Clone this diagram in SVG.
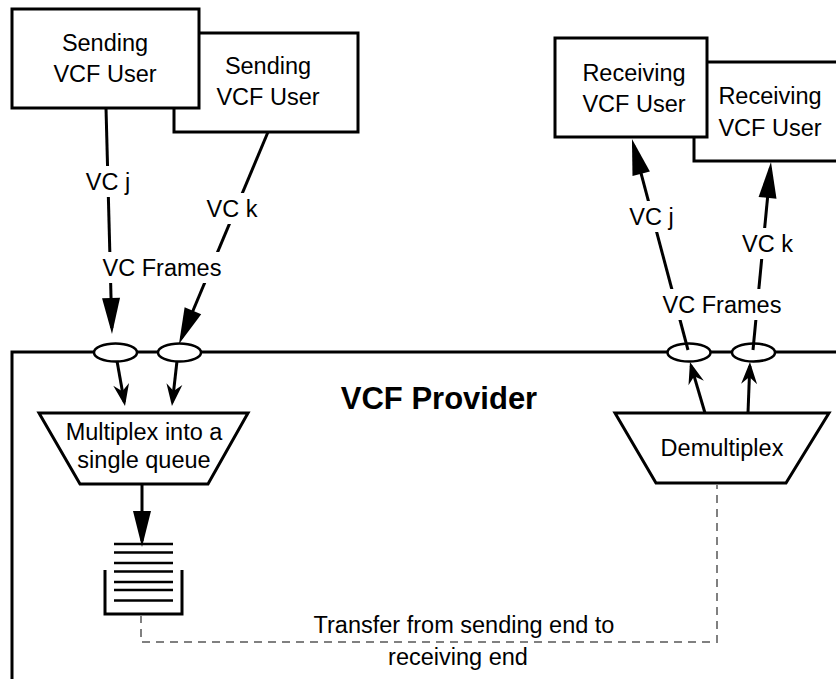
<svg xmlns="http://www.w3.org/2000/svg" width="836" height="679" viewBox="0 0 836 679">
<style>
.box{fill:#fff;stroke:#000;stroke-width:3}
.ln{fill:none;stroke:#000;stroke-width:3}
.port{fill:#fff;stroke:#000;stroke-width:2.5}
.q{stroke:#000;stroke-width:2.5}
.dash{fill:none;stroke:#808080;stroke-width:2;stroke-dasharray:8 6}
.t{font-family:"Liberation Sans",Arial,Helvetica,sans-serif;font-size:23.5px;fill:#000;text-anchor:middle}
.tb{font-family:"Liberation Sans",Arial,Helvetica,sans-serif;font-size:31px;font-weight:bold;fill:#000;text-anchor:middle}
.bg{fill:#fff}
</style>
<defs>
<marker id="big" markerUnits="userSpaceOnUse" orient="auto" overflow="visible" refX="0" refY="0" markerWidth="1" markerHeight="1"><path d="M6,0 L-30,-9 L-30,9 Z" fill="#000"/></marker>
<marker id="small" markerUnits="userSpaceOnUse" orient="auto" overflow="visible" refX="0" refY="0" markerWidth="1" markerHeight="1"><path d="M4,0 L-18,-8 L-11,0 L-18,8 Z" fill="#000"/></marker>
</defs>
<rect width="836" height="679" fill="#fff"/>

<g id="provider">
<path class="ln" d="M12,680 V352 H840"/>
<text class="tb" x="439" y="409">VCF Provider</text>
</g>

<g id="sender2"><rect class="box" x="174" y="33" width="184" height="99"/>
<text class="t" x="268" y="74">Sending</text><text class="t" x="268" y="105">VCF User</text></g>
<g id="sender1"><rect class="box" x="12" y="9" width="187" height="99"/>
<text class="t" x="105" y="51">Sending</text><text class="t" x="105" y="82">VCF User</text></g>

<g id="receiver2"><rect class="box" x="694" y="62" width="160" height="99"/>
<text class="t" x="770" y="104">Receiving</text><text class="t" x="770" y="136">VCF User</text></g>
<g id="receiver1"><rect class="box" x="555" y="38" width="152" height="99"/>
<text class="t" x="634" y="81">Receiving</text><text class="t" x="634" y="112">VCF User</text></g>

<g id="port-s1"><ellipse class="port" cx="115.5" cy="352.5" rx="21.5" ry="9"/></g>
<g id="port-s2"><ellipse class="port" cx="179.5" cy="352.5" rx="21.5" ry="9"/></g>
<g id="port-r1"><ellipse class="port" cx="689" cy="352.5" rx="21.5" ry="9"/></g>
<g id="port-r2"><ellipse class="port" cx="753.5" cy="352.5" rx="21.5" ry="9"/></g>

<g id="multiplex"><path class="box" d="M39,413 H248 L208,484 H80 Z"/>
<text class="t" x="144" y="440">Multiplex into a</text><text class="t" x="144" y="468">single queue</text></g>

<g id="demultiplex"><path class="box" d="M615,413 H829 L786,483 H656 Z"/>
<text class="t" x="722" y="456">Demultiplex</text></g>

<g id="queue">
<path class="ln" d="M105,570 V614 H182 V570"/>
<line class="q" x1="114" y1="544" x2="173" y2="544"/>
<line class="q" x1="114" y1="552.5" x2="173" y2="552.5"/>
<line class="q" x1="114" y1="563" x2="173" y2="563"/>
<line class="q" x1="114" y1="571.5" x2="173" y2="571.5"/>
<line class="q" x1="114" y1="582" x2="173" y2="582"/>
<line class="q" x1="114" y1="590" x2="173" y2="590"/>
<line class="q" x1="114" y1="600.5" x2="173" y2="600.5"/>
</g>

<g id="connectors">
<line class="ln" x1="106" y1="108" x2="111.84" y2="328" marker-end="url(#big)"/>
<line class="ln" x1="268" y1="132" x2="181.3" y2="338.5" marker-end="url(#big)"/>
<line class="ln" x1="142" y1="484" x2="142" y2="541" marker-end="url(#big)"/>
<line class="ln" x1="688" y1="350" x2="633.5" y2="144.8" marker-end="url(#big)"/>
<line class="ln" x1="753" y1="350" x2="770.4" y2="168" marker-end="url(#big)"/>
<line class="ln" x1="117" y1="361" x2="124.3" y2="402.1" marker-end="url(#small)"/>
<line class="ln" x1="177" y1="361" x2="172.4" y2="402" marker-end="url(#small)"/>
<line class="ln" x1="705" y1="413" x2="691.1" y2="365.8" marker-end="url(#small)"/>
<line class="ln" x1="748" y1="413" x2="749.8" y2="366" marker-end="url(#small)"/>
<path class="dash" d="M141,615 V642 H717 V485"/>
<rect class="bg" x="85" y="166" width="46" height="31"/>
<text class="t" x="108" y="190">VC j</text>
<rect class="bg" x="206" y="193" width="52" height="31"/>
<text class="t" x="232" y="217">VC k</text>
<rect class="bg" x="103" y="252" width="118" height="31"/>
<text class="t" x="162" y="276">VC Frames</text>
<rect class="bg" x="628.5" y="201" width="46" height="31"/>
<text class="t" x="651.5" y="225">VC j</text>
<rect class="bg" x="741.5" y="228" width="52" height="31"/>
<text class="t" x="767.5" y="252">VC k</text>
<rect class="bg" x="663" y="289" width="118" height="31"/>
<text class="t" x="722" y="313">VC Frames</text>
<text class="t" x="464" y="633">Transfer from sending end to</text>
<text class="t" x="458" y="665">receiving end</text>
</g>
</svg>
